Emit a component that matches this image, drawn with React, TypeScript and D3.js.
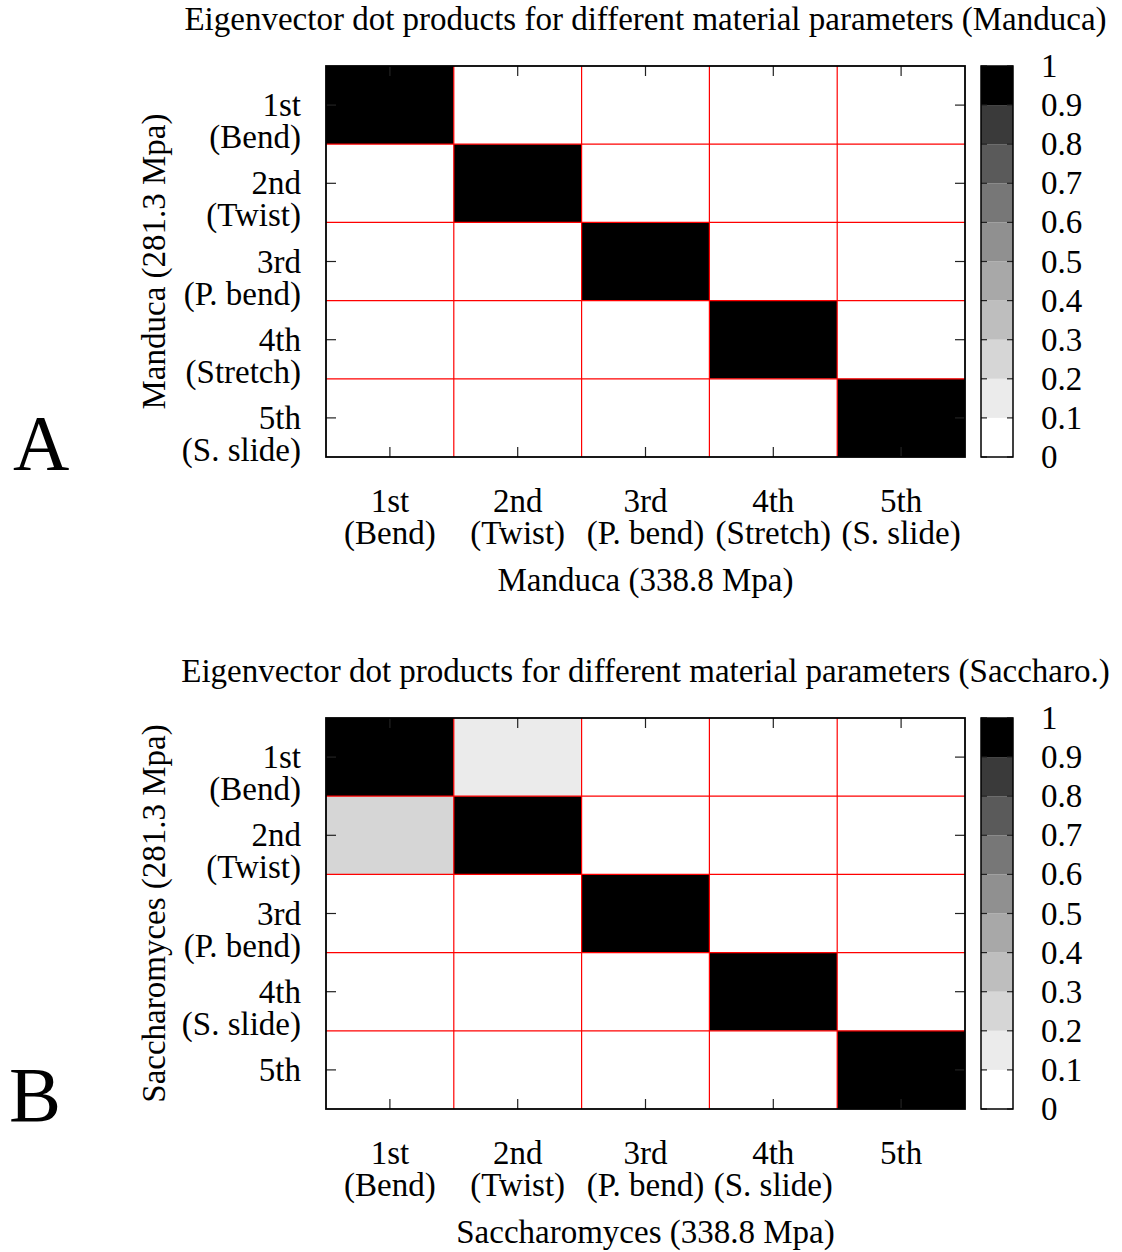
import * as d3 from "d3";

// row/column mode names
const modesA = [
  ["1st", "(Bend)"],
  ["2nd", "(Twist)"],
  ["3rd", "(P. bend)"],
  ["4th", "(Stretch)"],
  ["5th", "(S. slide)"],
];
const modesB = [
  ["1st", "(Bend)"],
  ["2nd", "(Twist)"],
  ["3rd", "(P. bend)"],
  ["4th", "(S. slide)"],
  ["5th"],
];

// |dot product| matrices, rows = y mode, cols = x mode
const dotA = [
  [0.99, 0.02, 0.01, 0.0, 0.01],
  [0.02, 0.98, 0.01, 0.01, 0.0],
  [0.0, 0.01, 0.99, 0.02, 0.01],
  [0.0, 0.01, 0.02, 0.99, 0.03],
  [0.01, 0.0, 0.01, 0.03, 0.99],
];
const dotB = [
  [0.97, 0.15, 0.01, 0.0, 0.01],
  [0.25, 0.96, 0.02, 0.01, 0.0],
  [0.01, 0.02, 0.99, 0.01, 0.02],
  [0.0, 0.01, 0.01, 0.98, 0.04],
  [0.01, 0.0, 0.02, 0.05, 0.98],
];

const cbTicks = [0, 0.1, 0.2, 0.3, 0.4, 0.5, 0.6, 0.7, 0.8, 0.9, 1];
const grays = [
  "#ffffff", "#ebebeb", "#d6d6d6", "#bebebe", "#a8a8a8",
  "#909090", "#777777", "#5a5a5a", "#3a3a3a", "#000000",
];

const FONT = "Liberation Serif, Times New Roman, serif";
const FS = 33;

const color = d3.scaleQuantize<string>().domain([0, 1]).range(grays);

const X0 = 326, X1 = 965, H = 391;
const CB0 = 981, CB1 = 1013;

function Panel({ top, title, xLabel, yLabel, rows, cols, values, letter, letterX }) {
  const idx = d3.range(cols.length);
  const x = d3.scaleBand<number>().domain(idx).range([X0, X1]);
  const y = d3.scaleBand<number>().domain(idx).range([top, top + H]);
  const cy = d3.scaleLinear().domain([0, 1]).range([top + H, top]);
  const bottom = top + H;
  const tick = 10;

  const cells = [];
  values.forEach((row, r) =>
    row.forEach((v, c) => cells.push({ r, c, v }))
  );

  return (
    <g fontFamily={FONT} fontSize={FS} fill="#000">
      <text x={(X0 + X1) / 2} y={top - 36} textAnchor="middle">{title}</text>

      {cells.map((d) => (
        <rect key={`${d.r}-${d.c}`} x={x(d.c)} y={y(d.r)} width={x.bandwidth()} height={y.bandwidth()} fill={color(d.v)} />
      ))}

      {idx.slice(1).map((i) => (
        <g key={i} stroke="#ff0000" strokeWidth={1.2}>
          <line x1={x(i)} x2={x(i)} y1={top} y2={bottom} />
          <line x1={X0} x2={X1} y1={y(i)} y2={y(i)} />
        </g>
      ))}

      {idx.map((i) => {
        const cx = x(i) + x.bandwidth() / 2;
        const yy = y(i) + y.bandwidth() / 2;
        return (
          <g key={i} stroke="#222" strokeWidth={1.2}>
            <line x1={cx} x2={cx} y1={bottom} y2={bottom - tick} />
            <line x1={cx} x2={cx} y1={top} y2={top + tick} />
            <line x1={X0} x2={X0 + tick} y1={yy} y2={yy} />
            <line x1={X1} x2={X1 - tick} y1={yy} y2={yy} />
          </g>
        );
      })}

      <rect x={X0} y={top} width={X1 - X0} height={H} fill="none" stroke="#000" strokeWidth={1.8} />

      {cols.map((lines, i) => (
        <text key={i} x={x(i) + x.bandwidth() / 2} y={bottom + 55} textAnchor="middle">
          {lines.map((s, k) => (
            <tspan key={k} x={x(i) + x.bandwidth() / 2} dy={k === 0 ? 0 : 32}>{s}</tspan>
          ))}
        </text>
      ))}
      {rows.map((lines, i) => (
        <text key={i} x={301} y={y(i) + y.bandwidth() / 2 + 11} textAnchor="end">
          {lines.map((s, k) => (
            <tspan key={k} x={301} dy={k === 0 ? 0 : 32}>{s}</tspan>
          ))}
        </text>
      ))}

      <text x={(X0 + X1) / 2} y={bottom + 134} textAnchor="middle">{xLabel}</text>
      <text transform={`translate(165,${top + H / 2}) rotate(-90)`} textAnchor="middle">{yLabel}</text>

      {grays.map((g, i) => (
        <rect key={i} x={CB0} y={cy(cbTicks[i + 1])} width={CB1 - CB0} height={cy(cbTicks[i]) - cy(cbTicks[i + 1])} fill={g} />
      ))}
      {cbTicks.map((t) => (
        <g key={t}>
          <line x1={CB0} x2={CB0 + 6} y1={cy(t)} y2={cy(t)} stroke="#222" strokeWidth={1.2} />
          <line x1={CB1} x2={CB1 - 6} y1={cy(t)} y2={cy(t)} stroke="#222" strokeWidth={1.2} />
          <text x={1041} y={cy(t) + 11}>{d3.format("~g")(t)}</text>
        </g>
      ))}
      <rect x={CB0} y={top} width={CB1 - CB0} height={H} fill="none" stroke="#000" strokeWidth={1.5} />

      <text x={letterX} y={top + H + 12} fontSize={78}>{letter}</text>
    </g>
  );
}

export default function App() {
  return (
    <svg width={1122} height={1252} style={{ position: "absolute", left: 0, top: 0, background: "#fff" }}>
      <rect width={1122} height={1252} fill="#fff" />
      <Panel
        top={66}
        title="Eigenvector dot products for different material parameters (Manduca)"
        xLabel="Manduca (338.8 Mpa)"
        yLabel="Manduca (281.3 Mpa)"
        rows={modesA}
        cols={modesA}
        values={dotA}
        letter="A"
        letterX={13}
      />
      <Panel
        top={718}
        title="Eigenvector dot products for different material parameters (Saccharo.)"
        xLabel="Saccharomyces (338.8 Mpa)"
        yLabel="Saccharomyces (281.3 Mpa)"
        rows={modesB}
        cols={modesB}
        values={dotB}
        letter="B"
        letterX={9}
      />
    </svg>
  );
}
